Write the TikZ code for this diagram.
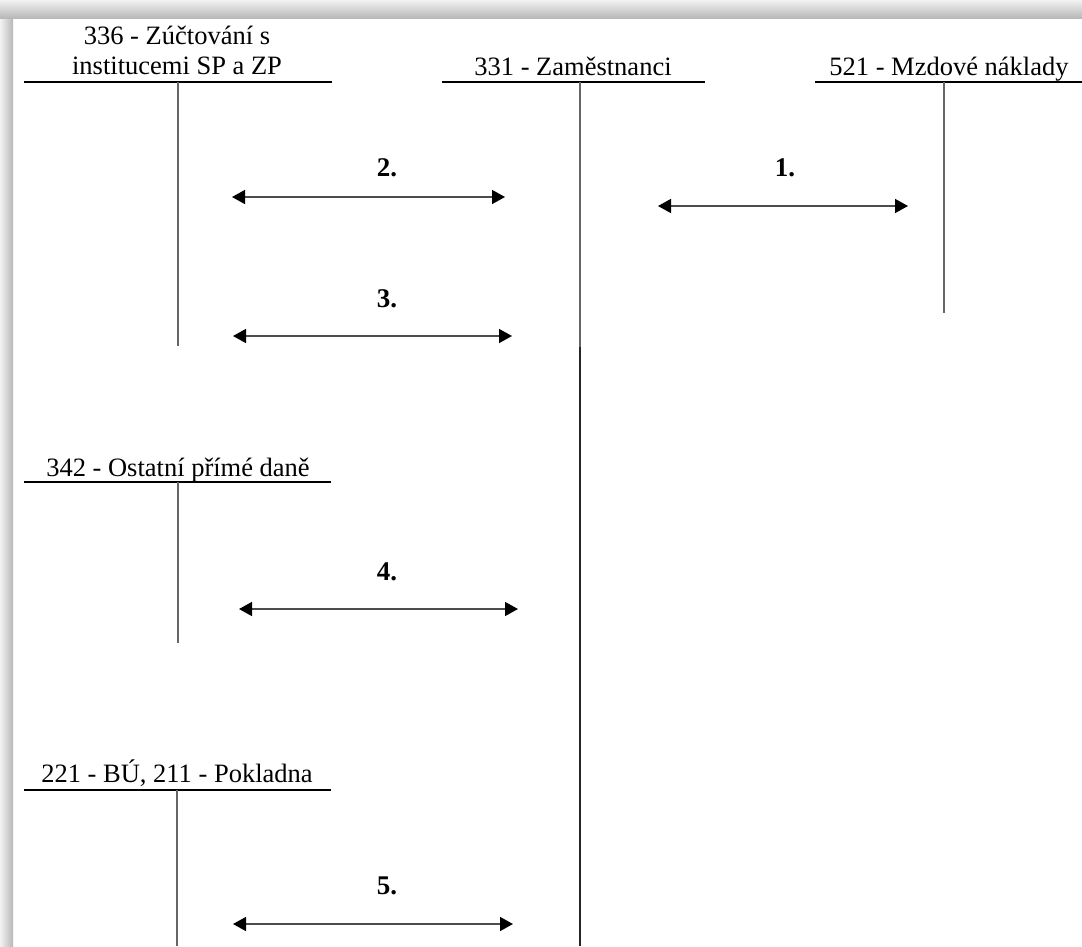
\documentclass[tikz,border=0pt]{standalone}
\usepackage{fontspec}
\setmainfont{Liberation Serif}
\usetikzlibrary{arrows.meta}
\begin{document}
\begin{tikzpicture}[x=1pt,y=-1pt,
  hdr/.style={inner sep=0pt,font=\fontsize{26.5}{30}\selectfont,align=center},
  num/.style={inner sep=0pt,anchor=base,font=\fontsize{27}{30}\selectfont\bfseries},
  tline/.style={line width=2pt,black},
  vline/.style={line width=1.5pt,black!60},
  tip/.style={Triangle[length=13pt,width=14pt,fill=black,draw=black]},
  flow/.style={line width=1.5pt,black!70,{Triangle[length=13pt,width=14pt,color=black]}-{Triangle[length=13pt,width=14pt,color=black]}}]
\useasboundingbox (0,0) rectangle (1082,946);
\fill[white] (0,0) rectangle (1082,946);
\shade[top color=black!5,bottom color=black!28] (0,0) rectangle (1082,18);
\shade[left color=black!5,right color=black!28] (0,18) rectangle (13,946);
\shade[top color=black!5,bottom color=black!28] (0,0) rectangle (13,18);

% headers
\node[hdr,anchor=south] (h336) at (177,75) {336 - Zúčtování s\\institucemi SP a ZP};
\node[hdr,anchor=base] (h331) at (573,75) {331 - Zaměstnanci};
\node[hdr,anchor=base] (h521) at (949,75) {521 - Mzdové náklady};
\node[hdr,anchor=base] (h342) at (178,476) {342 - Ostatní přímé daně};
\node[hdr,anchor=base] (h221) at (177,782) {221 - BÚ, 211 - Pokladna};

% T-accounts
\coordinate (a336l) at (24,82);  \coordinate (a336r) at (332,82);
\coordinate (a336t) at (178,82); \coordinate (a336b) at (178,346);
\coordinate (a331l) at (442,82); \coordinate (a331r) at (705,82);
\coordinate (a331t) at (580,82); \coordinate (a331m) at (580,347); \coordinate (a331b) at (580,946);
\coordinate (a521l) at (815,82); \coordinate (a521r) at (1082,82);
\coordinate (a521t) at (944,82); \coordinate (a521b) at (944,313);
\coordinate (a342l) at (24,482); \coordinate (a342r) at (331,482);
\coordinate (a342t) at (178,482); \coordinate (a342b) at (178,643);
\coordinate (a221l) at (24,790); \coordinate (a221r) at (331,790);
\coordinate (a221t) at (177,790); \coordinate (a221b) at (177,946);

\draw[tline] (a336l) -- (a336r);
\draw[vline] (a336t) -- (a336b);
\draw[tline] (a331l) -- (a331r);
\draw[vline] (a331t) -- (a331m);
\draw[vline,black!85] (a331m) -- (a331b);
\draw[tline] (a521l) -- (a521r);
\draw[vline] (a521t) -- (a521b);
\draw[tline] (a342l) -- (a342r);
\draw[vline] (a342t) -- (a342b);
\draw[tline] (a221l) -- (a221r);
\draw[vline] (a221t) -- (a221b);

% arrows
\coordinate (f1a) at (658,206); \coordinate (f1b) at (908,206);
\coordinate (f2a) at (232,197); \coordinate (f2b) at (505,197);
\coordinate (f3a) at (233,336); \coordinate (f3b) at (512,336);
\coordinate (f4a) at (239,609); \coordinate (f4b) at (518,609);
\coordinate (f5a) at (233,924); \coordinate (f5b) at (513,924);
\draw[flow] (f1a) -- (f1b);
\draw[flow] (f2a) -- (f2b);
\draw[flow] (f3a) -- (f3b);
\draw[flow] (f4a) -- (f4b);
\draw[flow] (f5a) -- (f5b);

\node[num] (n1) at (785,176) {1.};
\node[num] (n2) at (387,176) {2.};
\node[num] (n3) at (387,307) {3.};
\node[num] (n4) at (387,580) {4.};
\node[num] (n5) at (387,894) {5.};
\end{tikzpicture}
\end{document}
